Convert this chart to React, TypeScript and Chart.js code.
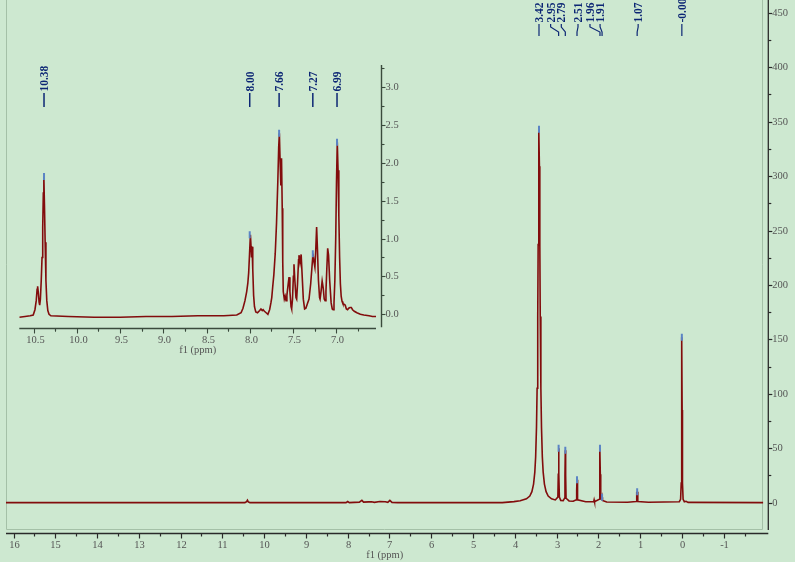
import { useEffect, useRef } from 'react';
import { Chart, registerables } from 'chart.js';

Chart.register(...registerables);

// ---------- main spectrum (ppm, intensity) ----------
const mainPpm = [
  16.18, 10.46, 10.42, 10.4, 10.38, 10.34, 8.04, 8.0, 7.96, 7.72, 7.66, 7.62, 7.5, 7.43, 7.36, 7.23, 7.1, 7.04,
  6.99, 6.94, 6.8, 4.3, 4.02, 3.87, 3.72, 3.64, 3.59, 3.55, 3.52, 3.5, 3.48, 3.465, 3.45, 3.44, 3.43, 3.42, 3.41,
  3.4, 3.39, 3.375, 3.36, 3.34, 3.32, 3.29, 3.25, 3.2, 3.12, 3.03, 2.968, 2.958, 2.95, 2.942, 2.932, 2.9, 2.84,
  2.808, 2.798, 2.79, 2.782, 2.772, 2.7, 2.6, 2.528, 2.518, 2.51, 2.502, 2.492, 2.3, 2.11, 2.1, 2.09, 1.978,
  1.968, 1.96, 1.952, 1.942, 1.92, 1.91, 1.9, 1.8, 1.3, 1.09, 1.08, 1.07, 1.06, 1.05, 0.8, 0.06, 0.03, 0.015,
  0.007, 0, -0.007, -0.015, -0.03, -0.06, -0.1, -0.15, -1.95,
];
const mainIntensity = [
  0, 0, 0.8, 2.2, 0.6, 0, 0, 1.0, 0, 0.4, 2.0, 0.4, 0.6, 0.7, 0.2, 1.0, 0.7, 0.2,
  2.0, 0.2, 0, 0, 0.9, 1.6, 3.4, 6, 10, 17, 28, 42, 69, 105, 171, 237, 309, 343, 309,
  237, 171, 105, 69, 42, 28, 17, 10, 6, 3.4, 2.4, 5, 26, 50, 26, 5, 2, 1.8,
  4, 25, 48, 25, 4, 1.5, 1.2, 2.5, 11, 21, 11, 2.5, 0.8, 0.8, 2.5, 0.8, 3,
  26, 50, 26, 4, 3, 5, 2, 0.5, 0.3, 1, 10, 6, 10, 1, 0.3, 0.8, 3, 18,
  85, 152, 85, 18, 3, 0.8, 1.2, 0.2, 0,
];
const mainPeakPpm = [3.42, 2.95, 2.79, 2.51, 1.96, 1.91, 1.07, 0.0];
const mainPeakHeight = [343, 50, 48, 21, 50, 5, 10, 152];
const mainPeakLabels = ['3.42', '2.95', '2.79', '2.51', '1.96', '1.91', '1.07', '-0.00'];
const mainXTicks = [16, 15, 14, 13, 12, 11, 10, 9, 8, 7, 6, 5, 4, 3, 2, 1, 0, -1];
const mainYTicks = [0, 50, 100, 150, 200, 250, 300, 350, 400, 450];

// ---------- inset (aromatic region) ----------
const insetPpm = [
  10.666, 10.6, 10.54, 10.505, 10.485, 10.47, 10.46, 10.454, 10.447, 10.437, 10.43, 10.422, 10.412, 10.403, 10.395,
  10.388, 10.382, 10.375, 10.367, 10.358, 10.348, 10.336, 10.322, 10.3, 10.1, 9.8, 9.5, 9.2, 8.9, 8.6, 8.3, 8.15,
  8.1, 8.078, 8.055, 8.035, 8.022, 8.012, 8.002, 7.992, 7.985, 7.979, 7.973, 7.965, 7.955, 7.945, 7.93, 7.91,
  7.885, 7.87, 7.855, 7.845, 7.83, 7.81, 7.79, 7.77, 7.755, 7.745, 7.735, 7.721, 7.705, 7.69, 7.675, 7.665,
  7.657, 7.648, 7.64, 7.632, 7.624, 7.618, 7.612, 7.6, 7.59, 7.58, 7.57, 7.555, 7.545, 7.535, 7.522, 7.515,
  7.505, 7.495, 7.488, 7.478, 7.465, 7.457, 7.447, 7.435, 7.43, 7.418, 7.405, 7.395, 7.38, 7.365, 7.35, 7.33,
  7.314, 7.295, 7.28, 7.268, 7.258, 7.246, 7.236, 7.226, 7.216, 7.205, 7.192, 7.186, 7.175, 7.162, 7.15, 7.138,
  7.128, 7.118, 7.108, 7.098, 7.088, 7.075, 7.058, 7.045, 7.035, 7.025, 7.015, 7.005, 6.996, 6.987, 6.978, 6.969,
  6.96, 6.951, 6.942, 6.932, 6.922, 6.905, 6.895, 6.882, 6.868, 6.855, 6.84, 6.825, 6.81, 6.79, 6.76, 6.72,
  6.68, 6.62, 6.58, 6.539,
];
const insetIntensity = [
  -0.04, -0.03, -0.02, -0.01, 0.06, 0.18, 0.33, 0.37, 0.3, 0.16, 0.12, 0.2, 0.45, 0.75, 1.15,
  1.6, 1.82, 1.45, 0.95, 0.45, 0.18, 0.05, 0.0, -0.02, -0.03, -0.04, -0.04, -0.03, -0.03, -0.02, -0.02, -0.01,
  0.02, 0.08, 0.18, 0.3, 0.41, 0.55, 0.8, 1.05, 0.9, 0.75, 0.89, 0.6, 0.25, 0.1, 0.03, 0.02,
  0.05, 0.07, 0.05, 0.06, 0.04, 0.02, 0.0, 0.06, 0.15, 0.22, 0.35, 0.52, 0.8, 1.2, 1.75, 2.2,
  2.39, 2.0, 1.7, 2.06, 1.4, 0.7, 0.3, 0.2, 0.24, 0.18, 0.25, 0.4, 0.49, 0.3, 0.1, 0.07,
  0.2, 0.5, 0.66, 0.45, 0.22, 0.2, 0.4, 0.72, 0.78, 0.68, 0.79, 0.55, 0.2, 0.07, 0.08, 0.15,
  0.2, 0.4, 0.62, 0.8, 0.7, 0.62, 0.85, 1.15, 0.85, 0.45, 0.22, 0.2, 0.3, 0.44, 0.35, 0.2,
  0.18, 0.3, 0.6, 0.87, 0.78, 0.45, 0.15, 0.07, 0.06, 0.15, 0.45, 1.0, 1.75, 2.27, 1.9, 1.3,
  0.75, 0.4, 0.24, 0.17, 0.14, 0.13, 0.12, 0.07, 0.06, 0.08, 0.09, 0.09, 0.06, 0.04, 0.02, 0.0,
  -0.01, -0.02, -0.03, -0.03,
];
const insetPeakPpm = [10.38, 8.0, 7.66, 7.27, 6.99];
const insetPeakHeight = [1.82, 1.05, 2.39, 0.8, 2.27];
const insetPeakLabels = ['10.38', '8.00', '7.66', '7.27', '6.99'];
const insetXTicks = [10.5, 10.0, 9.5, 9.0, 8.5, 8.0, 7.5, 7.0];
const insetYTicks = [0.0, 0.5, 1.0, 1.5, 2.0, 2.5, 3.0];

// ---------- styles ----------
const BG = '#cde8d0';
const FRAME = '#a4c0a7';
const TRACE = '#820c0c';
const MARK_BLUE = '#5b84c4';
const LABEL_BLUE = '#0c2674';
const AXIS = '#2a2a2a';
const TICK_COLOR = '#555555';
const TICK_FONT = '10.5px "Liberation Serif", serif';
const PEAK_FONT = 'bold 11.5px "Liberation Serif", serif';
const mainLabelShift = [0, -8, -4, 1, -10, -2, 1, 0];

function toPoints(xs: number[], ys: number[]) {
  return xs.map((x, i) => ({ x, y: ys[i] }));
}

function drawRotatedLabel(ctx: CanvasRenderingContext2D, text: string, x: number, yBottom: number) {
  ctx.save();
  ctx.translate(x, yBottom);
  ctx.rotate(-Math.PI / 2);
  ctx.font = PEAK_FONT;
  ctx.fillStyle = LABEL_BLUE;
  ctx.textAlign = 'left';
  ctx.textBaseline = 'alphabetic';
  ctx.fillText(text, 0, 3.9);
  ctx.restore();
}

const mainDecor = {
  id: 'mainDecor',
  beforeDatasetsDraw(chart: any) {
    const { ctx, chartArea: a } = chart;
    ctx.save();
    ctx.strokeStyle = FRAME;
    ctx.lineWidth = 1;
    const l = Math.round(a.left) + 0.5;
    const r = Math.round(a.right) - 0.5;
    const b = Math.round(a.bottom) - 0.5;
    ctx.beginPath();
    ctx.moveTo(l, 0);
    ctx.lineTo(l, b);
    ctx.lineTo(r, b);
    ctx.lineTo(r, 0);
    ctx.stroke();
    ctx.restore();
  },
  afterDraw(chart: any) {
    const { ctx, chartArea: a } = chart;
    const xs = chart.scales.x;
    const ys = chart.scales.y;
    ctx.save();
    // x axis
    const ax = a.bottom + 3.5;
    ctx.strokeStyle = AXIS;
    ctx.lineWidth = 1.3;
    ctx.beginPath();
    ctx.moveTo(a.left, ax);
    ctx.lineTo(a.right + 5, ax);
    ctx.stroke();
    ctx.lineWidth = 1.2;
    ctx.font = TICK_FONT;
    ctx.fillStyle = TICK_COLOR;
    ctx.textAlign = 'center';
    ctx.textBaseline = 'middle';
    mainXTicks.forEach((v) => {
      const px = Math.round(xs.getPixelForValue(v)) + 0.5;
      ctx.beginPath();
      ctx.moveTo(px, ax);
      ctx.lineTo(px, ax + 5);
      ctx.stroke();
      ctx.fillText(String(v), px, ax + 12);
      const mv = v - 0.5;
      const mx = xs.getPixelForValue(mv);
      if (mx <= a.right && mx >= a.left) {
        const mp = Math.round(mx) + 0.5;
        ctx.beginPath();
        ctx.moveTo(mp, ax);
        ctx.lineTo(mp, ax + 3);
        ctx.stroke();
      }
    });
    ctx.fillText('f1 (ppm)', (a.left + a.right) / 2, ax + 22);

    // y axis on right
    const ay = a.right + 5;
    ctx.lineWidth = 1.3;
    ctx.beginPath();
    ctx.moveTo(ay, 0);
    ctx.lineTo(ay, a.bottom);
    ctx.stroke();
    ctx.lineWidth = 1.2;
    ctx.textAlign = 'left';
    mainYTicks.forEach((v) => {
      const py = Math.round(ys.getPixelForValue(v)) + 0.5;
      ctx.beginPath();
      ctx.moveTo(ay, py);
      ctx.lineTo(ay + 4, py);
      ctx.stroke();
      ctx.fillText(String(v), ay + 4, py);
      const mp = Math.round(ys.getPixelForValue(v + 25)) + 0.5;
      if (mp > 0) {
        ctx.beginPath();
        ctx.moveTo(ay, mp);
        ctx.lineTo(ay + 3, mp);
        ctx.stroke();
      }
    });

    // peak labels with leaders
    ctx.strokeStyle = LABEL_BLUE;
    ctx.lineWidth = 1.2;
    mainPeakPpm.forEach((p, i) => {
      const px = xs.getPixelForValue(p);
      const lx = px + mainLabelShift[i];
      drawRotatedLabel(ctx, mainPeakLabels[i], lx, 22.5);
      ctx.beginPath();
      ctx.moveTo(lx, 24);
      ctx.lineTo(lx, 27);
      ctx.lineTo(px, 32);
      ctx.lineTo(px, 36);
      ctx.stroke();
    });
    ctx.restore();
  },
};

const insetDecor = {
  id: 'insetDecor',
  afterDraw(chart: any) {
    const { ctx, chartArea: a } = chart;
    const xs = chart.scales.x;
    const ys = chart.scales.y;
    ctx.save();
    const ax = Math.round(a.bottom) + 0.5;
    ctx.strokeStyle = '#3a4a3c';
    ctx.lineWidth = 1.3;
    ctx.beginPath();
    ctx.moveTo(a.left, ax);
    ctx.lineTo(a.right, ax);
    ctx.stroke();
    ctx.lineWidth = 1.1;
    ctx.font = TICK_FONT;
    ctx.fillStyle = TICK_COLOR;
    ctx.textAlign = 'center';
    ctx.textBaseline = 'middle';
    insetXTicks.forEach((v) => {
      const px = Math.round(xs.getPixelForValue(v)) + 0.5;
      ctx.beginPath();
      ctx.moveTo(px, ax);
      ctx.lineTo(px, ax + 5);
      ctx.stroke();
      ctx.fillText(v.toFixed(1), px + 1, ax + 12);
      [0.25, -0.25].forEach((d) => {
        const mx = xs.getPixelForValue(v + d);
        if (mx >= a.left && mx <= a.right) {
          const mp = Math.round(mx) + 0.5;
          ctx.beginPath();
          ctx.moveTo(mp, ax);
          ctx.lineTo(mp, ax + 3);
          ctx.stroke();
        }
      });
    });
    ctx.fillText('f1 (ppm)', (a.left + a.right) / 2, ax + 22);

    const ay = Math.round(a.right + 4.7) + 0.5;
    ctx.lineWidth = 1.4;
    ctx.beginPath();
    ctx.moveTo(ay, a.top);
    ctx.lineTo(ay, a.bottom - 1);
    ctx.stroke();
    ctx.lineWidth = 1.1;
    ctx.textAlign = 'left';
    insetYTicks.forEach((v) => {
      const py = Math.round(ys.getPixelForValue(v)) + 0.5;
      ctx.beginPath();
      ctx.moveTo(ay, py);
      ctx.lineTo(ay + 4, py);
      ctx.stroke();
      ctx.fillText(v.toFixed(1), ay + 4, py);
      const mp = Math.round(ys.getPixelForValue(v + 0.25)) + 0.5;
      if (mp > a.top) {
        ctx.beginPath();
        ctx.moveTo(ay, mp);
        ctx.lineTo(ay + 3, mp);
        ctx.stroke();
      }
    });

    ctx.strokeStyle = LABEL_BLUE;
    ctx.lineWidth = 1.5;
    insetPeakPpm.forEach((p, i) => {
      const px = xs.getPixelForValue(p);
      drawRotatedLabel(ctx, insetPeakLabels[i], px, 91.5);
      ctx.beginPath();
      ctx.moveTo(px, 93);
      ctx.lineTo(px, 107);
      ctx.stroke();
    });
    ctx.restore();
  },
};

export default function App() {
  const mainRef = useRef<HTMLCanvasElement>(null);
  const insetRef = useRef<HTMLCanvasElement>(null);

  useEffect(() => {
    const commonPlugins = { legend: { display: false }, tooltip: { enabled: false } };
    const main = new Chart(mainRef.current!, {
      type: 'line',
      data: {
        datasets: [
          {
            data: toPoints(mainPeakPpm, mainPeakHeight),
            showLine: false,
            pointStyle: 'line',
            rotation: 90,
            pointRadius: 3.5,
            borderWidth: 2,
            borderColor: MARK_BLUE,
          } as any,
          {
            data: toPoints(mainPpm, mainIntensity),
            borderColor: TRACE,
            borderWidth: 1.6,
            pointRadius: 0,
            tension: 0,
            fill: false,
          },
        ],
      },
      options: {
        animation: false,
        responsive: false,
        devicePixelRatio: 1,
        events: [],
        layout: { padding: { left: 5.3, right: 31.7, top: 0, bottom: 32 } },
        plugins: commonPlugins as any,
        scales: {
          x: { type: 'linear', reverse: true, min: -1.95, max: 16.18, display: false },
          y: { type: 'linear', min: -25.2, max: 456.3, display: false },
        },
      },
      plugins: [mainDecor],
    });

    const inset = new Chart(insetRef.current!, {
      type: 'line',
      data: {
        datasets: [
          {
            data: toPoints(insetPeakPpm, insetPeakHeight),
            showLine: false,
            pointStyle: 'line',
            rotation: 90,
            pointRadius: 3.5,
            borderWidth: 2,
            borderColor: MARK_BLUE,
          } as any,
          {
            data: toPoints(insetPpm, insetIntensity),
            borderColor: TRACE,
            borderWidth: 1.6,
            pointRadius: 0,
            tension: 0,
            fill: false,
          },
        ],
      },
      options: {
        animation: false,
        responsive: false,
        devicePixelRatio: 1,
        events: [],
        layout: { padding: { left: 19.3, right: 44, top: 65, bottom: 33.7 } },
        plugins: commonPlugins as any,
        scales: {
          x: { type: 'linear', reverse: true, min: 6.539, max: 10.666, display: false },
          y: { type: 'linear', min: -0.185, max: 3.29, display: false },
        },
      },
      plugins: [insetDecor],
    });

    return () => {
      main.destroy();
      inset.destroy();
    };
  }, []);

  return (
    <div
      style={{
        position: 'fixed',
        left: 0,
        top: 0,
        width: 795,
        height: 562,
        background: BG,
        overflow: 'hidden',
      }}
    >
      <canvas ref={mainRef} width={795} height={562} style={{ position: 'absolute', left: 0, top: 0 }} />
      <canvas ref={insetRef} width={420} height={362} style={{ position: 'absolute', left: 0, top: 0 }} />
    </div>
  );
}
